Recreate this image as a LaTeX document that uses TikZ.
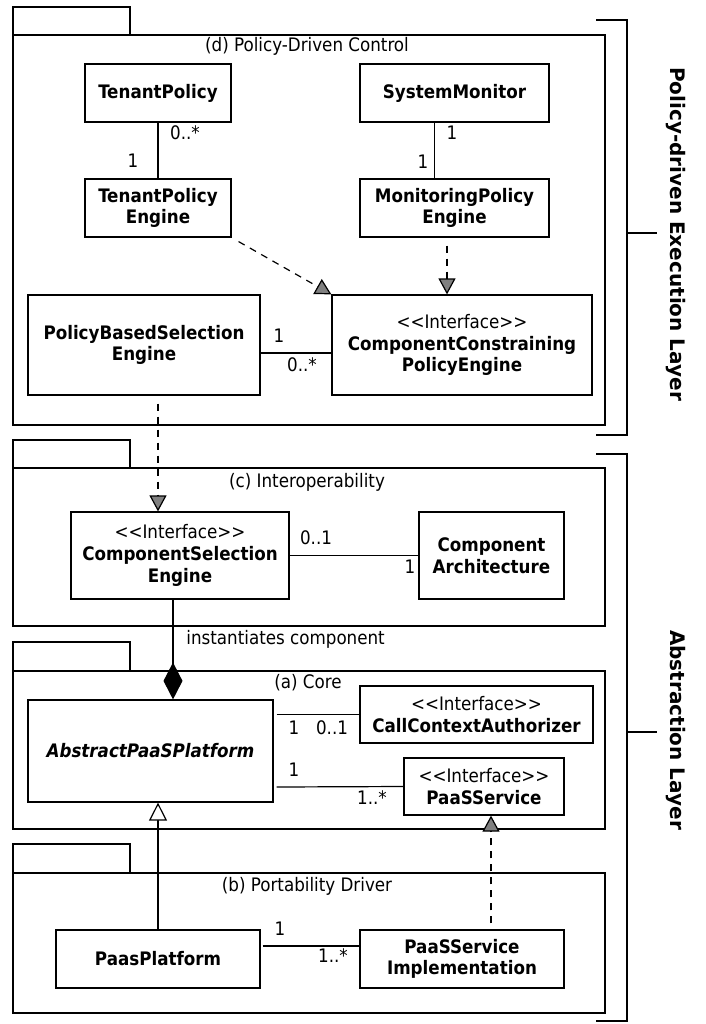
\documentclass[tikz,border=0pt]{standalone}
\usepackage{fontspec}
\setmainfont{DejaVu Sans Condensed}[BoldFont={DejaVu Sans Condensed Bold},ItalicFont={DejaVu Sans Condensed Oblique},BoldItalicFont={DejaVu Sans Condensed Bold Oblique}]
\newfontfamily\sidefont{DejaVu Sans Bold}
\usetikzlibrary{arrows.meta}
\definecolor{tipgray}{RGB}{128,128,128}
\newcommand{\stereo}[1]{<\kern0pt<#1>\kern0pt>}
\begin{document}
\begin{tikzpicture}[x=0.5pt,y=-0.5pt,
  lw/.style={line width=0.6pt},
  every node/.style={font=\fontsize{9.3}{10.85}\selectfont},
  cls/.style={draw, lw, inner sep=0pt, align=center, font=\fontsize{9.3}{10.85}\selectfont\bfseries},
  wh/.style 2 args={minimum width=#1*0.5pt, minimum height=#2*0.5pt},
  pkg/.style={draw, lw},
  ttl/.style={inner sep=0pt},
  lbl/.style={inner sep=0pt},
  assoc/.style={lw},
  realize/.style={lw, dash pattern=on 3.5pt off 3pt, -{Triangle[length=8pt,width=8.5pt,fill=tipgray]}},
  general/.style={lw, -{Triangle[open,length=9pt,width=9pt,fill=white]}},
  compose/.style={lw, -{Diamond[length=18.5pt,width=9.5pt,fill=black]}},
  bracket/.style={lw},
  side/.style={inner sep=0pt, rotate=-90, font=\fontsize{10}{12}\selectfont\sidefont}
]
\useasboundingbox[fill=white] (0,0) rectangle (706,1024);

% packages
\draw[pkg] (13,7) rectangle (130,35);
\draw[pkg] (13,35) rectangle (605,425);
\node[ttl] (td) at (307,46) {(d) Policy-Driven Control};
\draw[pkg] (13,440) rectangle (130,468);
\draw[pkg] (13,468) rectangle (605,626);
\node[ttl] (tc) at (307,482) {(c) Interoperability};
\draw[pkg] (13,642) rectangle (130,671);
\draw[pkg] (13,671) rectangle (605,829);
\node[ttl] (ta) at (308,683) {(a) Core};
\draw[pkg] (13,844) rectangle (130,873);
\draw[pkg] (13,873) rectangle (605,1013);
\node[ttl] (tb) at (307,886) {(b) Portability Driver};

% classes
\node[cls, wh={146}{58}] (tp) at (158,93) {TenantPolicy};
\node[cls, wh={189}{58}] (sm) at (454.5,93) {SystemMonitor};
\node[cls, wh={146}{58}] (tpe) at (158,208) {TenantPolicy\\Engine};
\node[cls, wh={189}{58}] (mpe) at (454.5,208) {MonitoringPolicy\\Engine};
\node[cls, wh={232}{100}] (pbs) at (144,345) {PolicyBasedSelection\\Engine};
\node[cls, wh={260}{100}] (ccpe) at (462,345) {\mdseries\stereo{Interface}\\ComponentConstraining\\PolicyEngine};
\node[cls, wh={218}{87}] (cse) at (180,555.5) {\mdseries\stereo{Interface}\\ComponentSelection\\Engine};
\node[cls, wh={145}{87}] (ca) at (491.5,555.5) {Component\\Architecture};
\node[cls, wh={245}{102}] (app) at (150.5,751) {\itshape AbstractPaaSPlatform};
\node[cls, wh={233}{57}] (cca) at (476.5,714.5) {\mdseries\stereo{Interface}\\CallContextAuthorizer};
\node[cls, wh={160}{57}] (ps) at (484,786.5) {\mdseries\stereo{Interface}\\PaaSService};
\node[cls, wh={204}{58}] (pp) at (158,959) {PaasPlatform};
\node[cls, wh={204}{58}] (psi) at (462,959) {PaaSService\\Implementation};

% connectors (d)
\draw[assoc] (tp) -- (tpe);
\node[lbl] (m1) at (185,133) {0..*};
\node[lbl] (m2) at (133,161) {1};
\draw[assoc] ([xshift=-10pt]sm.south) -- ([xshift=-10pt]mpe.north);
\node[lbl] (m3) at (452,133) {1};
\node[lbl] (m4) at (423,162) {1};
\draw[realize, shorten <=4pt] (tpe.south east) -- (ccpe.north west);
\draw[realize, shorten <=4pt] ([xshift=-3.75pt]mpe.south) -- ([xshift=-7.5pt]ccpe.north);
\draw[assoc] ([yshift=-4pt]pbs.east) -- ([yshift=-4pt]ccpe.west);
\node[lbl] (m5) at (279,336) {1};
\node[lbl] (m6) at (302,365) {0..*};

% (d) -> (c)
\draw[realize, shorten <=4pt] ([xshift=7pt]pbs.south) -- ([xshift=-11pt]cse.north);
\draw[assoc] (cse) -- (ca);
\node[lbl] (m7) at (316,538) {0..1};
\node[lbl] (m8) at (410,567) {1};

% composition
\draw[compose] ([xshift=-3.5pt]cse.south) -- ([xshift=11.25pt]app.north);
\node[lbl, anchor=west] (inst) at (186,639) {instantiates component};

% (a)
\draw[assoc] ([xshift=1.5pt,yshift=18.25pt]app.east) -- (cca.west);
\node[lbl] (m9) at (294,728) {1};
\node[lbl] (m10) at (332,728) {0..1};
\draw[assoc] ([xshift=1.5pt,yshift=-18pt]app.east) -- (ps.west);
\node[lbl] (m11) at (294,770) {1};
\node[lbl] (m12) at (372,798) {1..*};

% (b)
\draw[general] (pp.north) -- ([xshift=3.75pt]app.south);
\draw[realize, shorten <=3pt] ([xshift=14.5pt]psi.north) -- ([xshift=3.5pt]ps.south);
\draw[assoc] ([xshift=1pt,yshift=6.5pt]pp.east) -- ([yshift=6.5pt]psi.west);
\node[lbl] (m13) at (280,929) {1};
\node[lbl] (m14) at (333,956) {1..*};

% brackets
\coordinate (b1a) at (596,20);
\coordinate (b1b) at (627,20);
\coordinate (b1c) at (627,435);
\coordinate (b1d) at (596,435);
\coordinate (b1m) at (627,233);
\coordinate (b1t) at (657,233);
\draw[bracket] (b1a) -- (b1b) -- (b1c) -- (b1d);
\draw[bracket] (b1m) -- (b1t);
\node[side] (l1) at (676,234) {Policy-driven Execution Layer};
\coordinate (b2a) at (596,454);
\coordinate (b2b) at (627,454);
\coordinate (b2c) at (627,1021);
\coordinate (b2d) at (596,1021);
\coordinate (b2m) at (627,732);
\coordinate (b2t) at (657,732);
\draw[bracket] (b2a) -- (b2b) -- (b2c) -- (b2d);
\draw[bracket] (b2m) -- (b2t);
\node[side] (l2) at (676,730) {Abstraction Layer};
\end{tikzpicture}
\end{document}
